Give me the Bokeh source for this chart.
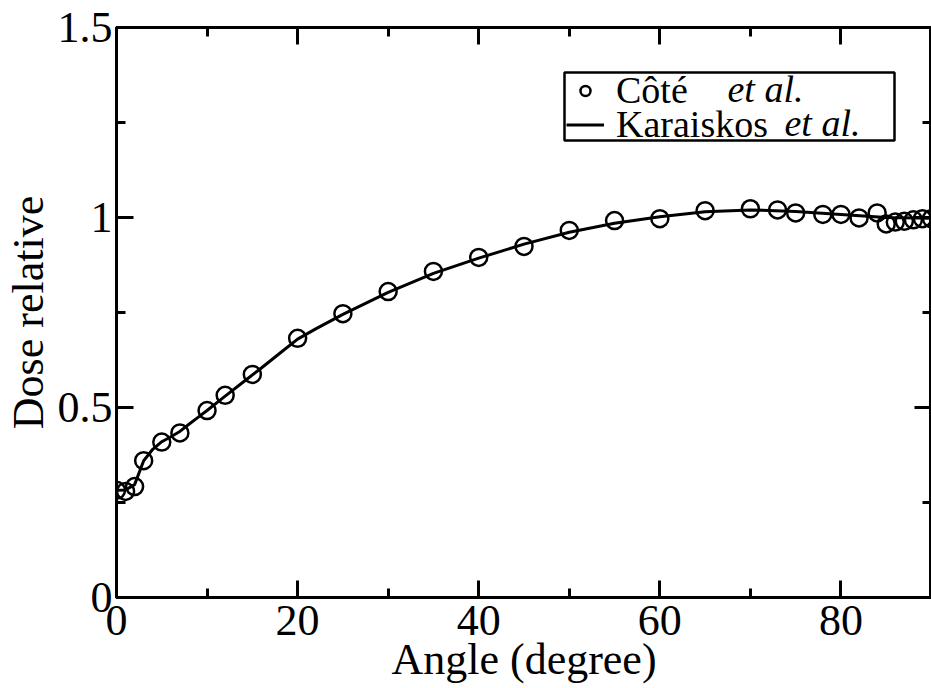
from bokeh.plotting import figure
from bokeh.models import (LinearAxis, FixedTicker, Legend, LegendItem, Label, Range1d,
                          BoxAnnotation)
from bokeh.embed import file_html
from bokeh.resources import INLINE

# ---- data ----
cote_angle = [0, 1, 2, 3, 5, 7, 10, 12, 15, 20, 25, 30, 35, 40, 45, 50, 55, 60,
              65, 70, 73, 75, 78, 80, 82, 84, 85, 86, 87, 88, 89, 90]
cote_dose = [0.282, 0.279, 0.292, 0.360, 0.409, 0.433, 0.492, 0.532, 0.587, 0.682,
             0.747, 0.805, 0.858, 0.895, 0.924, 0.966, 0.992, 0.997, 1.018, 1.023,
             1.020, 1.012, 1.008, 1.008, 0.999, 1.012, 0.983, 0.988, 0.990, 0.994,
             0.997, 0.997]

kara_angle = [0, 1, 2, 3, 4, 5, 6, 7, 8, 9, 10, 12, 14, 16, 18, 20, 22, 25, 30, 35,
              40, 45, 50, 55, 60, 65, 70, 75, 80, 85, 90]
kara_dose = [0.282, 0.283, 0.297, 0.360, 0.390, 0.410, 0.423, 0.437, 0.456, 0.474,
             0.492, 0.530, 0.567, 0.604, 0.642, 0.680, 0.707, 0.745, 0.803, 0.853,
             0.893, 0.930, 0.961, 0.985, 1.002, 1.015, 1.020, 1.016, 1.008, 1.000,
             0.998]

x_major = [0, 20, 40, 60, 80]
x_minor = [10, 30, 50, 70, 90]
y_major = [0, 0.5, 1, 1.5]
y_minor = [0.25, 0.75, 1.25]
y_tick_labels = {0: "0", 0.5: "0.5", 1: "1", 1.5: "1.5"}

x_title = "Angle (degree)"
y_title = "Dose relative"
name_cote = "Côté"
name_kara = "Karaiskos"
etal = "et al."

FONT = "Liberation Serif"

p = figure(width=931, height=688, output_backend="svg", toolbar_location=None,
           x_range=Range1d(0, 90), y_range=Range1d(0, 1.5),
           min_border_left=115, min_border_right=0, min_border_top=27,
           min_border_bottom=91, x_axis_location=None, y_axis_location=None)
p.grid.visible = False
p.outline_line_color = "black"
p.outline_line_width = 3
p.background_fill_color = "white"
p.border_fill_color = "white"


def style_axis(ax, ticks, minor, labels=True):
    ax.ticker = FixedTicker(ticks=ticks, minor_ticks=minor)
    ax.axis_line_color = "black"
    ax.axis_line_width = 3
    ax.major_tick_line_width = 3
    ax.minor_tick_line_width = 3
    ax.major_tick_in = 17
    ax.major_tick_out = 0
    ax.minor_tick_in = 9
    ax.minor_tick_out = 0
    ax.major_label_text_font = FONT
    ax.major_label_text_color = "black"
    ax.axis_label_text_font = FONT
    ax.axis_label_text_font_size = "44px"
    ax.axis_label_text_font_style = "normal"
    ax.axis_label_text_color = "black"
    if labels:
        ax.major_label_text_font_size = "44px"
    else:
        ax.major_label_text_alpha = 0
        ax.major_label_text_font_size = "1px"


xb = LinearAxis()
style_axis(xb, x_major, x_minor)
xb.major_label_standoff = 8
xb.axis_label = x_title
xb.axis_label_standoff = -3
p.add_layout(xb, "below")

yl = LinearAxis()
style_axis(yl, y_major, y_minor)
yl.major_label_overrides = y_tick_labels
yl.major_label_standoff = 4
yl.axis_label = y_title
yl.axis_label_standoff = 2
p.add_layout(yl, "left")

xt = LinearAxis()
style_axis(xt, x_major, x_minor, labels=False)
p.add_layout(xt, "above")

yr = LinearAxis()
style_axis(yr, y_major, y_minor, labels=False)
p.add_layout(yr, "right")

r_line = p.line(kara_angle, kara_dose, line_color="black", line_width=3)
r_pts = p.scatter(cote_angle, cote_dose, marker="circle", size=17,
                  fill_color=None, line_color="black", line_width=2.5)

# legend frame
p.add_layout(BoxAnnotation(left=448, right=778, top=525, bottom=457,
                           left_units="screen", right_units="screen",
                           top_units="screen", bottom_units="screen",
                           fill_color="white", fill_alpha=1.0,
                           line_color="black", line_width=2.5, line_alpha=1.0,
                           level="underlay"))


def make_legend(label, renderer, loc):
    lg = Legend(items=[LegendItem(label=label, renderers=[renderer])], location=loc)
    lg.label_text_font = FONT
    lg.label_text_font_size = "38px"
    lg.label_text_color = "black"
    lg.label_standoff = 12
    lg.glyph_width = 38
    lg.glyph_height = 25
    lg.label_height = 20
    lg.padding = 0
    lg.margin = 0
    lg.border_line_alpha = 0
    lg.background_fill_alpha = 0
    return lg


p.add_layout(make_legend(name_cote, r_pts, (450, 485)), "center")
p.add_layout(make_legend(name_kara, r_line, (450, 451)), "center")

# italic "et al." parts of the legend labels
p.add_layout(Label(x=611, y=509, x_units="screen", y_units="screen", text=etal,
                   text_font=FONT, text_font_style="italic", text_font_size="38px",
                   text_color="black", text_baseline="middle", level="overlay"))
p.add_layout(Label(x=668, y=475, x_units="screen", y_units="screen", text=etal,
                   text_font=FONT, text_font_style="italic", text_font_size="38px",
                   text_color="black", text_baseline="middle", level="overlay"))

open("out.html", "w").write(file_html(p, INLINE))
